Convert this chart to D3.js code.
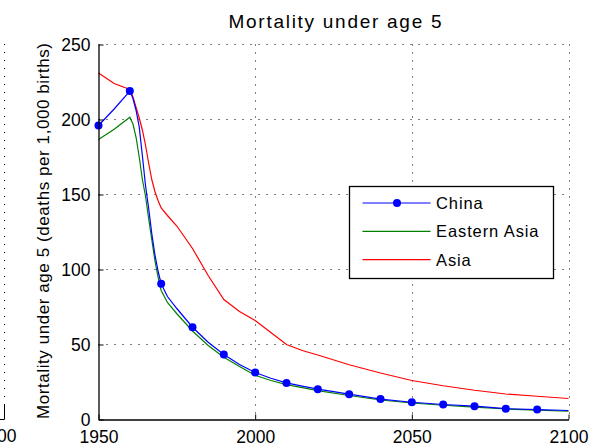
<!DOCTYPE html>
<html>
<head>
<meta charset="utf-8">
<script src="https://cdn.jsdelivr.net/npm/d3@7"></script>
<style>
  body { margin: 0; background: #fff; }
  svg { display: block; font-family: Arial, "Liberation Sans", sans-serif; }
</style>
</head>
<body>
<svg id="chart" width="599" height="446"></svg>
<script>
// values
var years = [1950, 1955, 1960, 1961, 1962, 1963, 1964, 1965, 1966, 1967, 1968, 1969, 1970,
  1972, 1975, 1980, 1985, 1990, 1995, 2000, 2005, 2010, 2015, 2020, 2030, 2040, 2050,
  2060, 2070, 2080, 2090, 2100];

var china = [196, 207, 219, 214, 206, 195, 176, 156, 141, 124, 110, 99, 90.5,
  82, 74, 61.5, 51.5, 43.3, 36.7, 31.3, 27.5, 24.4, 22.2, 20.2, 16.9, 13.6, 11.5,
  10, 8.9, 7.2, 6.6, 6];

var easternAsia = [186.7, 193.5, 201.5, 197, 188, 175, 160, 149, 134, 120, 106, 95, 86,
  78, 70.5, 59, 49.3, 41.5, 35.3, 29.5, 26, 23.3, 21.2, 19.3, 16, 13, 11,
  9.5, 8.3, 7, 6.3, 5.5];

var asia = [231, 224, 220, 215, 208, 201, 193, 183, 171, 160, 152, 146, 141,
  136, 129, 114, 96, 80, 72, 66, 58, 50, 46, 43, 36.5, 31, 26,
  22.5, 19.5, 17, 15.5, 14];

var markerYears = [1950, 1960, 1970, 1980, 1990, 2000, 2010, 2020, 2030, 2040, 2050, 2060, 2070, 2080, 2090];

var xTicks = [1950, 2000, 2050, 2100];
var yTicks = [0, 50, 100, 150, 200, 250];

var seriesNames = ["China", "Eastern Asia", "Asia"];
var seriesColors = ["#0000ff", "#008000", "#ff0000"];

var svg = d3.select("#chart");

var x = d3.scaleLinear().domain([1950, 2100]).range([98.5, 568.5]);
var y = d3.scaleLinear().domain([0, 250]).range([419.5, 44.5]);

// leftover edge of the neighbouring subplot
svg.append("line")
  .attr("x1", 4.5).attr("x2", 4.5).attr("y1", 44).attr("y2", 404)
  .attr("stroke", "#000").attr("stroke-dasharray", "1,7");
svg.append("path")
  .attr("d", "M4.5,404V419.5H0")
  .attr("fill", "none").attr("stroke", "#000");
svg.append("text")
  .attr("x", -3).attr("y", 442)
  .attr("text-anchor", "middle")
  .attr("font-size", "17.5px")
  .text("2100");

// dotted grid
var grid = svg.append("g").attr("stroke", "#000").attr("stroke-dasharray", "1,7");
grid.selectAll(".gx")
  .data(xTicks.filter(function (d) { return d > 1950; }))
  .enter().append("line")
  .attr("x1", function (d) { return Math.round(x(d)) + 0.5; })
  .attr("x2", function (d) { return Math.round(x(d)) + 0.5; })
  .attr("y1", y(250)).attr("y2", y(0));
grid.selectAll(".gy")
  .data(yTicks.filter(function (d) { return d > 0; }))
  .enter().append("line")
  .attr("x1", x(1950)).attr("x2", x(2100))
  .attr("y1", function (d) { return y(d); })
  .attr("y2", function (d) { return y(d); });

// series lines
var line = d3.line()
  .x(function (d) { return x(d[0]); })
  .y(function (d) { return y(d[1]); });

var seriesData = [china, easternAsia, asia];
[2, 1, 0].forEach(function (i) {
  svg.append("path")
    .datum(d3.zip(years, seriesData[i]))
    .attr("fill", "none")
    .attr("stroke", seriesColors[i])
    .attr("stroke-width", 1.2)
    .attr("d", line);
});

svg.selectAll(".marker")
  .data(markerYears)
  .enter().append("circle")
  .attr("cx", function (d) { return x(d); })
  .attr("cy", function (d) { return y(china[years.indexOf(d)]); })
  .attr("r", 4)
  .attr("fill", "#0000ff");

// axes
var xAxis = svg.append("g")
  .attr("transform", "translate(0," + y(0) + ")")
  .call(d3.axisBottom(x).tickValues(xTicks).tickFormat(d3.format("d"))
    .tickSizeInner(-5).tickSizeOuter(0).tickPadding(17));
var yAxis = svg.append("g")
  .attr("transform", "translate(" + x(1950) + ",0)")
  .call(d3.axisLeft(y).tickValues(yTicks)
    .tickSizeInner(-5).tickSizeOuter(0).tickPadding(8));

[xAxis, yAxis].forEach(function (a) {
  a.select(".domain").attr("stroke", "#000").attr("stroke-width", 1.3);
  a.selectAll(".tick line").attr("stroke", "#000");
  a.selectAll(".tick text")
    .attr("font-family", "Arial, 'Liberation Sans', sans-serif")
    .attr("font-size", "17.5px")
    .attr("fill", "#000");
});
yAxis.selectAll(".tick text").attr("dy", "0.35em");
xAxis.selectAll(".tick text").attr("dy", "0.35em");

// title and y label
svg.append("text")
  .attr("x", 335).attr("y", 28)
  .attr("text-anchor", "middle")
  .attr("font-size", "19px")
  .attr("textLength", 213).attr("lengthAdjust", "spacing")
  .text("Mortality under age 5");

svg.append("text")
  .attr("transform", "translate(49,231) rotate(-90)")
  .attr("text-anchor", "middle")
  .attr("font-size", "17px")
  .attr("textLength", 376).attr("lengthAdjust", "spacing")
  .text("Mortality under age 5 (deaths per 1,000 births)");

// legend
var legend = svg.append("g").attr("transform", "translate(349.5,186.5)");
legend.append("rect")
  .attr("width", 204).attr("height", 92)
  .attr("fill", "#fff").attr("stroke", "#000").attr("stroke-width", 1.3);

var items = legend.selectAll(".item")
  .data(seriesNames)
  .enter().append("g")
  .attr("transform", function (d, i) { return "translate(0," + (16.5 + i * 28.3) + ")"; });
items.append("line")
  .attr("x1", 13).attr("x2", 81)
  .attr("stroke", function (d, i) { return seriesColors[i]; })
  .attr("stroke-width", 1.2);
items.filter(function (d, i) { return i === 0; })
  .append("circle")
  .attr("cx", 47.5).attr("r", 4).attr("fill", "#0000ff");
items.append("text")
  .attr("x", 86.5).attr("y", 6)
  .attr("font-size", "16.5px")
  .attr("letter-spacing", "0.9px")
  .text(function (d) { return d; });
</script>
</body>
</html>
